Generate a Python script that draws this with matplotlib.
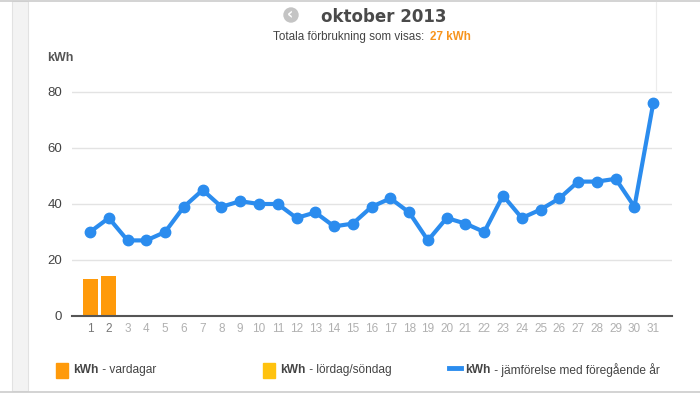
import numpy as np
import matplotlib
matplotlib.use("Agg")
import matplotlib.pyplot as plt
from matplotlib.patches import Rectangle, Circle
from matplotlib.lines import Line2D

plt.rcParams['font.family'] = ['Liberation Sans', 'DejaVu Sans']

# data
days = list(range(1, 32))
prev_year = [30, 35, 27, 27, 30, 39, 45, 39, 41, 40, 40, 35, 37, 32, 33, 39,
             42, 37, 27, 35, 33, 30, 43, 35, 38, 42, 48, 48, 49, 39, 76]
bar_days = [1, 2]
weekday_kwh = [13.2, 14.3]
yticks = [0, 20, 40, 60, 80]

ORANGE = "#ff9a0a"
YELLOW = "#ffc20e"
BLUE = "#2b8cee"

W, H = 700, 394
fig = plt.figure(figsize=(W / 100, H / 100), dpi=100)

# axes placed in pixel terms
x0, x1 = 72, 672
y_zero, px_per_unit = 316, 2.8
ymax = 85
ax = fig.add_axes([x0 / W, 1 - y_zero / H, (x1 - x0) / W, ymax * px_per_unit / H])

ax.bar(bar_days, weekday_kwh, width=0.8, color=ORANGE, zorder=2)
ax.plot(days, prev_year, color=BLUE, lw=3, marker="o", ms=7.5, zorder=3,
        solid_joinstyle="round")

ax.set_xlim(0.04, 32.0)
ax.set_ylim(0, ymax)
ax.set_yticks(yticks)
ax.set_xticks(days)
ax.set_xticklabels([str(d) for d in days])
for i, lab in enumerate(ax.get_xticklabels()):
    lab.set_color("#777777" if i < 2 else "#b0b0b0")
ax.tick_params(axis="x", length=0, labelsize=8.5, pad=5)
ax.tick_params(axis="y", length=0, labelsize=9.5, labelcolor="#444444", pad=7)
ax.grid(axis="y", color="#e3e3e3", lw=1, zorder=0)
for s in ["top", "right", "left"]:
    ax.spines[s].set_visible(False)
ax.spines["bottom"].set_color("#555555")
ax.spines["bottom"].set_linewidth(1.5)
ax.spines["bottom"].set_zorder(4)

fig.text(47 / W, 1 - 58 / H, "kWh", fontsize=9, fontweight="bold",
         color="#555555", va="center")

# title
fig.text(384 / W, 1 - 17 / H, "oktober 2013", fontsize=12, fontweight="bold",
         color="#4a4a4a", ha="center", va="center", family="DejaVu Sans")
fig.patches.append(Circle((291, H - 15), 7, transform=None,
                          color="#c4c4c4", zorder=5))
fig.text(290.5 / W, 1 - 15 / H, "\u2039", fontsize=11, fontweight="bold",
         color="white", ha="center", va="center", family="DejaVu Sans", zorder=6)
t = fig.text(273 / W, 1 - 37 / H, "Totala förbrukning som visas:", fontsize=8.4,
             color="#444444", va="center")
fig.canvas.draw()
bb = t.get_window_extent()
fig.text((bb.x1 + 6) / W, 1 - 37 / H, "27 kWh", fontsize=8.4, fontweight="bold",
         color="#f7941d", va="center")

# page frame
fig.add_artist(Line2D([0, 1], [1 - 1 / H, 1 - 1 / H], color="#cccccc", lw=1.2))
fig.add_artist(Line2D([0, 1], [1 - 392 / H, 1 - 392 / H], color="#cccccc", lw=1.2))
fig.add_artist(Line2D([656 / W, 656 / W], [1 - 2 / H, 1 - 90 / H], color="#ececec", lw=0.8))
fig.patches.append(Rectangle((12, 3), 16, H - 4, transform=None,
                             facecolor="#f3f3f3", edgecolor="#e2e2e2", lw=0.8, zorder=0))

# legend
def legend_item(xpx, label, color=None, line=False):
    if line:
        fig.add_artist(Line2D([xpx / W, (xpx + 12) / W], [1 - 368 / H, 1 - 368 / H],
                              color=BLUE, lw=3.5))
        tx = xpx + 16
    else:
        fig.patches.append(Rectangle((xpx, H - 378), 12, 15, transform=None,
                                     color=color))
        tx = xpx + 17
    a = fig.text(tx / W, 1 - 370 / H, "kWh", fontsize=8.6, fontweight="bold",
                 color="#444444", va="center")
    fig.canvas.draw()
    bb = a.get_window_extent()
    fig.text((bb.x1 + 1) / W, 1 - 370 / H, " - " + label, fontsize=8.6,
             color="#444444", va="center")

legend_item(56, "vardagar", ORANGE)
legend_item(263, "lördag/söndag", YELLOW)
legend_item(449, "jämförelse med föregående år", line=True)

fig.savefig("out.png", dpi=100)
